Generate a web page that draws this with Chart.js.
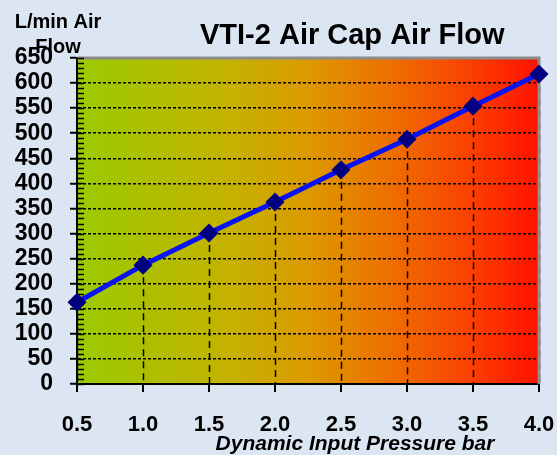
<!DOCTYPE html>
<html lang="en">
<head>
    <meta charset="UTF-8">
    <title>VTI-2 Air Cap Air Flow</title>
    <script src="https://cdn.jsdelivr.net/npm/chart.js"></script>
    <style>
        html, body { margin: 0; padding: 0; background: #dce6f2; }
        #wrap { width: 557px; height: 455px; }
    </style>
</head>
<body>
    <div id="wrap"><canvas id="flowChart" width="557" height="455"></canvas></div>
    <script>
    // Data
    const pressure = [0.5, 1.0, 1.5, 2.0, 2.5, 3.0, 3.5, 4.0];
    const airFlow = [163, 237, 301, 363, 427, 488, 554, 618];

    const chartTitle = 'VTI-2 Air Cap Air Flow';
    const yTitle = ['L/min Air', 'Flow'];
    const xTitle = 'Dynamic Input Pressure bar';

    // gradient background, borders, drop lines and minor ticks
    const decor = {
        id: 'decor',
        beforeDatasetsDraw(chart) {
            const { ctx, chartArea: a, scales } = chart;
            ctx.save();
            // drop lines from each point
            ctx.strokeStyle = '#000';
            ctx.lineWidth = 1.5;
            ctx.setLineDash([7, 5]);
            pressure.forEach((p, i) => {
                const x = Math.round(scales.x.getPixelForValue(p)) + 0.5;
                ctx.beginPath();
                ctx.moveTo(x, scales.y.getPixelForValue(airFlow[i]));
                ctx.lineTo(x, a.bottom);
                ctx.stroke();
            });
            ctx.setLineDash([]);
            // top / right border
            ctx.strokeStyle = '#8c8c8c';
            ctx.lineWidth = 3;
            ctx.beginPath();
            ctx.moveTo(a.left, a.top);
            ctx.lineTo(a.right, a.top);
            ctx.lineTo(a.right, a.bottom);
            ctx.stroke();
            // minor ticks on y axis
            ctx.strokeStyle = '#000';
            ctx.lineWidth = 1.5;
            for (let v = 0; v <= 650; v += 10) {
                const y = Math.round(scales.y.getPixelForValue(v)) + 0.5;
                ctx.beginPath();
                ctx.moveTo(a.left, y);
                ctx.lineTo(a.left + 7, y);
                ctx.stroke();
            }
            ctx.restore();
        },
        beforeDraw(chart) {
            const { ctx, chartArea: a } = chart;
            ctx.save();
            ctx.fillStyle = '#dce6f2';
            ctx.fillRect(0, 0, chart.width, chart.height);
            const g = ctx.createLinearGradient(a.left, 0, a.right, 0);
            g.addColorStop(0, '#9acb00');
            g.addColorStop(0.33, '#c4b200');
            g.addColorStop(0.5, '#dc9a00');
            g.addColorStop(0.68, '#ee6e00');
            g.addColorStop(0.85, '#fa4000');
            g.addColorStop(1, '#ff1200');
            ctx.fillStyle = g;
            ctx.fillRect(a.left, a.top, a.right - a.left, a.bottom - a.top);
            ctx.restore();
        },
        afterDraw(chart) {
            const { ctx } = chart;
            ctx.save();
            ctx.fillStyle = '#000';
            ctx.font = 'bold 29px "Liberation Sans", Arial, sans-serif';
            ctx.textAlign = 'left';
            ctx.textBaseline = 'alphabetic';
            ctx.fillText(chartTitle, 200, 44);
            ctx.font = 'bold 20px "Liberation Sans", Arial, sans-serif';
            ctx.textAlign = 'center';
            ctx.fillText(yTitle[0], 58, 28);
            ctx.fillText(yTitle[1], 58, 53);
            ctx.font = 'italic bold 21px "Liberation Sans", Arial, sans-serif';
            ctx.fillText(xTitle, 355, 450);
            ctx.restore();
        }
    };

    new Chart(document.getElementById('flowChart'), {
        type: 'line',
        data: {
            datasets: [{
                data: pressure.map((p, i) => ({ x: p, y: airFlow[i] })),
                borderColor: '#0a14f0',
                borderWidth: 5,
                pointStyle: 'rectRot',
                pointRadius: 6,
                pointBackgroundColor: '#000080',
                pointBorderColor: '#000080',
                tension: 0,
                clip: false
            }]
        },
        options: {
            responsive: false,
            animation: false,
            layout: { padding: { top: 58, right: 0, left: 0, bottom: 0 } },
            plugins: {
                legend: { display: false },
                title: { display: false },
                tooltip: { enabled: false }
            },
            scales: {
                x: {
                    type: 'linear',
                    min: 0.5,
                    max: 4.0,
                    afterFit(s) {
                        s.height = 71;
                        s.paddingLeft = 0;
                        s.paddingRight = 18;
                    },
                    border: { color: '#000', width: 2 },
                    grid: { drawOnChartArea: false, color: '#000', tickLength: 8, lineWidth: 2 },
                    ticks: {
                        stepSize: 0.5,
                        padding: 20,
                        color: '#000',
                        font: { family: '"Liberation Sans", Arial', size: 22, weight: 'bold' },
                        callback: v => v.toFixed(1)
                    }
                },
                y: {
                    min: 0,
                    max: 650,
                    afterFit(s) { s.width = 77; },
                    border: { color: '#000', width: 2, dash: [3, 2] },
                    grid: {
                        color: c => c.tick.value === 650 ? 'rgba(0,0,0,0)' : '#000',
                        lineWidth: 1.5,
                        tickLength: 7,
                        tickColor: '#000',
                        tickWidth: 2,
                        tickBorderDash: []
                    },
                    ticks: {
                        stepSize: 50,
                        autoSkip: false,
                        padding: 17,
                        color: '#000',
                        font: { family: '"Liberation Sans", Arial', size: 23, weight: 'bold' }
                    }
                }
            }
        },
        plugins: [decor]
    });
    </script>
</body>
</html>
